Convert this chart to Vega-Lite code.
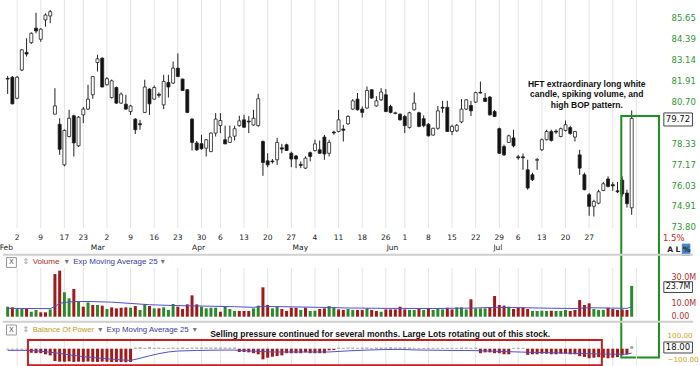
{
"$schema": "https://vega.github.io/schema/vega-lite/v6.json",
"width": 662, "height": 366,
"autosize": {"type": "none"},
"padding": {"left": 0, "top": 0, "right": 38, "bottom": 0},
"background": "white",
"config": {"view": {"stroke": null}, "axis": {"domain": false, "ticks": false, "grid": false, "labelOverlap": false, "labelFlush": false}},
"datasets": {
"one": [{}],
"w": [{"i":2},{"i":7},{"i":12},{"i":16},{"i":21},{"i":26},{"i":31},{"i":36},{"i":41},{"i":45},{"i":50},{"i":55},{"i":60},{"i":65},{"i":70},{"i":75},{"i":80},{"i":84},{"i":89},{"i":94},{"i":99},{"i":104},{"i":108},{"i":113},{"i":118},{"i":123},{"i":128},{"i":133}],
"dl": [{"i":2,"d":"2"},{"i":7,"d":"9"},{"i":12,"d":"17"},{"i":16,"d":"23"},{"i":21,"d":"2"},{"i":26,"d":"9"},{"i":31,"d":"16"},{"i":36,"d":"23"},{"i":41,"d":"30"},{"i":45,"d":"6"},{"i":50,"d":"13"},{"i":55,"d":"20"},{"i":60,"d":"27"},{"i":65,"d":"4"},{"i":70,"d":"11"},{"i":75,"d":"18"},{"i":80,"d":"26"},{"i":84,"d":"1"},{"i":89,"d":"8"},{"i":94,"d":"15"},{"i":99,"d":"22"},{"i":104,"d":"29"},{"i":108,"d":"6"},{"i":113,"d":"13"},{"i":118,"d":"20"},{"i":123,"d":"27"}],
"c": [
{"i":0,"o":82.02,"h":82.16,"l":81.12,"c":81.98},{"i":1,"o":82.09,"h":82.16,"l":80.52,"c":80.55},{"i":2,"o":80.87,"h":82.16,"l":80.81,"c":82.09},{"i":3,"o":82.51,"h":83.75,"l":82.45,"c":83.70},{"i":4,"o":83.55,"h":84.39,"l":83.30,"c":83.45},
{"i":5,"o":84.13,"h":84.75,"l":84.05,"c":84.69},{"i":6,"o":85.00,"h":85.94,"l":84.69,"c":84.83},{"i":7,"o":84.33,"h":85.00,"l":84.18,"c":84.94},{"i":8,"o":85.50,"h":85.90,"l":85.09,"c":85.80},{"i":9,"o":85.74,"h":86.11,"l":85.30,"c":86.00},
{"i":10,"o":79.96,"h":81.45,"l":79.96,"c":80.43},{"i":11,"o":79.39,"h":79.73,"l":77.68,"c":77.99},{"i":12,"o":77.13,"h":79.10,"l":77.05,"c":79.04},{"i":13,"o":78.70,"h":80.21,"l":78.65,"c":79.73},{"i":14,"o":79.87,"h":79.93,"l":77.59,"c":78.34},
{"i":15,"o":78.18,"h":79.85,"l":78.12,"c":79.79},{"i":16,"o":79.92,"h":80.37,"l":79.45,"c":80.25},{"i":17,"o":80.25,"h":81.65,"l":80.21,"c":80.82},{"i":18,"o":81.07,"h":82.16,"l":80.84,"c":82.13},{"i":19,"o":82.95,"h":83.41,"l":82.42,"c":83.17},
{"i":20,"o":83.21,"h":83.25,"l":81.50,"c":81.52},{"i":21,"o":81.65,"h":82.10,"l":81.60,"c":82.00},{"i":22,"o":80.91,"h":81.95,"l":80.85,"c":81.88},{"i":23,"o":81.49,"h":81.55,"l":80.55,"c":80.59},{"i":24,"o":80.59,"h":81.20,"l":80.55,"c":81.11},
{"i":25,"o":80.53,"h":81.07,"l":80.21,"c":80.25},{"i":26,"o":80.11,"h":80.49,"l":79.92,"c":80.43},{"i":27,"o":79.68,"h":79.73,"l":78.84,"c":79.08},{"i":28,"o":79.42,"h":79.64,"l":79.08,"c":79.36},{"i":29,"o":80.06,"h":81.94,"l":80.02,"c":81.52},
{"i":30,"o":81.40,"h":81.45,"l":79.92,"c":80.55},{"i":31,"o":80.82,"h":81.60,"l":80.78,"c":81.49},{"i":32,"o":81.10,"h":81.20,"l":80.90,"c":81.04},{"i":33,"o":80.49,"h":82.23,"l":80.25,"c":81.84},{"i":34,"o":81.78,"h":82.23,"l":80.91,"c":81.52},
{"i":35,"o":81.75,"h":83.01,"l":81.70,"c":82.62},{"i":36,"o":82.62,"h":83.49,"l":82.09,"c":82.13},{"i":37,"o":81.98,"h":82.00,"l":81.30,"c":81.32},{"i":38,"o":81.36,"h":81.40,"l":80.02,"c":80.06},{"i":39,"o":79.68,"h":79.73,"l":77.92,"c":78.37},
{"i":40,"o":78.34,"h":78.45,"l":77.90,"c":77.96},{"i":41,"o":78.30,"h":78.80,"l":77.96,"c":78.02},{"i":42,"o":78.05,"h":78.56,"l":77.59,"c":78.52},{"i":43,"o":77.86,"h":78.93,"l":77.83,"c":78.89},{"i":44,"o":78.89,"h":80.02,"l":78.70,"c":79.68},
{"i":45,"o":79.32,"h":80.02,"l":78.89,"c":79.60},{"i":46,"o":78.52,"h":79.31,"l":78.27,"c":78.29},{"i":47,"o":78.37,"h":79.31,"l":78.34,"c":78.67},{"i":48,"o":78.72,"h":79.31,"l":78.48,"c":79.14},{"i":49,"o":79.31,"h":79.87,"l":79.25,"c":79.58},
{"i":50,"o":79.64,"h":79.93,"l":79.20,"c":79.22},{"i":51,"o":79.57,"h":79.85,"l":78.89,"c":79.52},{"i":52,"o":79.35,"h":80.21,"l":79.31,"c":79.73},{"i":53,"o":79.31,"h":81.13,"l":79.25,"c":80.84},{"i":54,"o":78.42,"h":78.48,"l":76.53,"c":77.26},
{"i":55,"o":77.35,"h":77.77,"l":77.00,"c":77.13},{"i":56,"o":77.34,"h":77.45,"l":77.20,"c":77.30},{"i":57,"o":77.41,"h":78.62,"l":77.13,"c":78.37},{"i":58,"o":78.07,"h":78.29,"l":77.77,"c":78.00},{"i":59,"o":78.24,"h":78.30,"l":77.90,"c":77.92},
{"i":60,"o":77.77,"h":77.86,"l":77.00,"c":77.45},{"i":61,"o":77.62,"h":77.68,"l":76.95,"c":77.45},{"i":62,"o":77.16,"h":77.32,"l":76.95,"c":77.10},{"i":63,"o":76.95,"h":77.60,"l":76.90,"c":77.50},{"i":64,"o":77.80,"h":77.86,"l":77.32,"c":77.59},
{"i":65,"o":77.92,"h":78.52,"l":77.86,"c":78.29},{"i":66,"o":77.96,"h":78.48,"l":77.73,"c":77.77},{"i":67,"o":78.67,"h":78.79,"l":77.41,"c":77.73},{"i":68,"o":77.77,"h":78.52,"l":77.59,"c":78.37},{"i":69,"o":78.95,"h":79.02,"l":78.80,"c":78.90},
{"i":70,"o":78.98,"h":80.21,"l":78.93,"c":79.64},{"i":71,"o":79.12,"h":79.36,"l":78.42,"c":79.05},{"i":72,"o":79.41,"h":79.90,"l":79.36,"c":79.83},{"i":73,"o":80.25,"h":80.82,"l":80.21,"c":80.72},{"i":74,"o":80.82,"h":81.17,"l":80.17,"c":80.21},
{"i":75,"o":80.25,"h":80.40,"l":79.77,"c":80.06},{"i":76,"o":80.31,"h":81.55,"l":80.27,"c":81.32},{"i":77,"o":81.36,"h":81.40,"l":80.84,"c":80.88},{"i":78,"o":80.43,"h":80.99,"l":80.39,"c":80.72},{"i":79,"o":80.78,"h":81.45,"l":80.72,"c":81.23},
{"i":80,"o":81.07,"h":81.40,"l":80.08,"c":80.11},{"i":81,"o":80.40,"h":80.50,"l":80.00,"c":80.06},{"i":82,"o":80.00,"h":80.10,"l":79.95,"c":80.04},{"i":83,"o":79.96,"h":80.00,"l":79.60,"c":79.64},{"i":84,"o":79.83,"h":79.92,"l":78.89,"c":79.31},
{"i":85,"o":79.20,"h":80.10,"l":79.15,"c":80.04},{"i":86,"o":80.21,"h":81.20,"l":80.17,"c":80.59},{"i":87,"o":80.04,"h":80.10,"l":79.22,"c":79.27},{"i":88,"o":79.70,"h":79.90,"l":79.22,"c":79.31},{"i":89,"o":79.39,"h":79.45,"l":78.70,"c":78.74},
{"i":90,"o":78.78,"h":79.20,"l":78.75,"c":79.16},{"i":91,"o":79.16,"h":80.43,"l":79.08,"c":80.15},{"i":92,"o":80.35,"h":80.72,"l":80.04,"c":80.30},{"i":93,"o":80.35,"h":80.72,"l":78.98,"c":78.98},{"i":94,"o":78.98,"h":79.36,"l":78.78,"c":79.27},
{"i":95,"o":79.02,"h":79.40,"l":78.95,"c":79.33},{"i":96,"o":79.52,"h":80.82,"l":79.45,"c":80.25},{"i":97,"o":80.25,"h":80.82,"l":80.20,"c":80.78},{"i":98,"o":80.45,"h":80.72,"l":79.85,"c":80.15},{"i":99,"o":80.65,"h":81.25,"l":80.60,"c":81.19},
{"i":100,"o":81.21,"h":81.84,"l":81.15,"c":81.17},{"i":101,"o":80.88,"h":81.17,"l":80.65,"c":80.69},{"i":102,"o":80.94,"h":81.00,"l":79.88,"c":79.92},{"i":103,"o":80.11,"h":80.20,"l":79.80,"c":79.83},{"i":104,"o":79.14,"h":79.20,"l":77.73,"c":77.77},
{"i":105,"o":78.14,"h":78.24,"l":77.62,"c":77.68},{"i":106,"o":78.37,"h":78.80,"l":78.34,"c":78.74},{"i":107,"o":78.62,"h":79.08,"l":78.10,"c":78.18},{"i":108,"o":77.57,"h":77.68,"l":77.41,"c":77.52},{"i":109,"o":77.57,"h":77.75,"l":76.86,"c":77.52},
{"i":110,"o":76.86,"h":77.41,"l":75.78,"c":75.87},{"i":111,"o":76.59,"h":76.70,"l":76.25,"c":76.32},{"i":112,"o":77.38,"h":77.50,"l":76.86,"c":77.43},{"i":113,"o":77.96,"h":78.60,"l":77.90,"c":78.52},{"i":114,"o":78.52,"h":79.08,"l":78.48,"c":78.98},
{"i":115,"o":78.98,"h":79.08,"l":78.42,"c":78.48},{"i":116,"o":79.00,"h":79.10,"l":78.85,"c":78.95},{"i":117,"o":78.70,"h":79.20,"l":78.65,"c":79.14},{"i":118,"o":79.04,"h":79.60,"l":78.98,"c":79.36},{"i":119,"o":79.20,"h":79.30,"l":78.80,"c":78.87},
{"i":120,"o":78.67,"h":79.02,"l":78.42,"c":78.98},{"i":121,"o":77.68,"h":77.96,"l":76.59,"c":76.95},{"i":122,"o":76.59,"h":76.70,"l":75.75,"c":75.78},{"i":123,"o":75.51,"h":75.60,"l":74.39,"c":74.89},{"i":124,"o":74.89,"h":75.24,"l":74.35,"c":75.15},
{"i":125,"o":75.06,"h":75.78,"l":75.00,"c":75.67},{"i":126,"o":75.74,"h":76.20,"l":75.70,"c":76.10},{"i":127,"o":76.36,"h":76.50,"l":75.90,"c":75.96},{"i":128,"o":76.05,"h":76.20,"l":75.72,"c":75.99},{"i":129,"o":75.72,"h":76.20,"l":75.60,"c":75.67},
{"i":130,"o":76.30,"h":76.50,"l":75.40,"c":75.55},{"i":131,"o":75.60,"h":75.78,"l":74.82,"c":75.03},{"i":132,"o":74.81,"h":80.17,"l":74.44,"c":79.72}
],
"v": [
{"i":0,"v":7.7,"up":1},{"i":1,"v":7.2,"up":0},{"i":2,"v":5.9,"up":1},{"i":3,"v":5.9,"up":1},{"i":4,"v":5.9,"up":0},{"i":5,"v":3.8,"up":1},{"i":6,"v":5.2,"up":1},{"i":7,"v":3.4,"up":0},{"i":8,"v":3.4,"up":0},{"i":9,"v":5.6,"up":1},
{"i":10,"v":32.8,"up":0},{"i":11,"v":35.4,"up":0},{"i":12,"v":18.8,"up":1},{"i":13,"v":14.1,"up":1},{"i":14,"v":21.3,"up":0},{"i":15,"v":11.5,"up":1},{"i":16,"v":7.7,"up":0},{"i":17,"v":11.0,"up":1},{"i":18,"v":9.0,"up":0},{"i":19,"v":9.0,"up":1},
{"i":20,"v":8.5,"up":0},{"i":21,"v":5.9,"up":1},{"i":22,"v":7.2,"up":0},{"i":23,"v":6.4,"up":0},{"i":24,"v":6.9,"up":0},{"i":25,"v":7.2,"up":0},{"i":26,"v":6.9,"up":1},{"i":27,"v":8.2,"up":0},{"i":28,"v":5.2,"up":1},{"i":29,"v":9.8,"up":1},
{"i":30,"v":8.2,"up":0},{"i":31,"v":6.4,"up":1},{"i":32,"v":6.4,"up":0},{"i":33,"v":7.2,"up":1},{"i":34,"v":5.2,"up":1},{"i":35,"v":9.8,"up":1},{"i":36,"v":7.7,"up":0},{"i":37,"v":5.9,"up":0},{"i":38,"v":9.5,"up":0},{"i":39,"v":16.4,"up":0},
{"i":40,"v":9.5,"up":0},{"i":41,"v":7.7,"up":1},{"i":42,"v":6.4,"up":1},{"i":43,"v":6.9,"up":1},{"i":44,"v":6.9,"up":1},{"i":45,"v":3.8,"up":0},{"i":46,"v":7.7,"up":1},{"i":47,"v":5.9,"up":1},{"i":48,"v":4.4,"up":1},{"i":49,"v":4.4,"up":0},
{"i":50,"v":4.4,"up":0},{"i":51,"v":4.4,"up":0},{"i":52,"v":6.4,"up":1},{"i":53,"v":8.5,"up":1},{"i":54,"v":22.6,"up":0},{"i":55,"v":9.0,"up":0},{"i":56,"v":6.4,"up":1},{"i":57,"v":7.7,"up":1},{"i":58,"v":5.9,"up":0},{"i":59,"v":4.4,"up":0},
{"i":60,"v":6.9,"up":0},{"i":61,"v":6.9,"up":0},{"i":62,"v":5.2,"up":1},{"i":63,"v":6.9,"up":0},{"i":64,"v":4.4,"up":1},{"i":65,"v":4.6,"up":1},{"i":66,"v":5.9,"up":0},{"i":67,"v":6.4,"up":0},{"i":68,"v":8.2,"up":1},{"i":69,"v":7.2,"up":1},
{"i":70,"v":5.6,"up":0},{"i":71,"v":5.2,"up":0},{"i":72,"v":5.9,"up":1},{"i":73,"v":5.2,"up":1},{"i":74,"v":5.2,"up":0},{"i":75,"v":5.2,"up":0},{"i":76,"v":6.4,"up":1},{"i":77,"v":5.2,"up":0},{"i":78,"v":4.4,"up":0},{"i":79,"v":3.8,"up":1},
{"i":80,"v":5.6,"up":0},{"i":81,"v":5.6,"up":0},{"i":82,"v":5.6,"up":0},{"i":83,"v":7.7,"up":0},{"i":84,"v":5.6,"up":0},{"i":85,"v":5.2,"up":1},{"i":86,"v":5.2,"up":1},{"i":87,"v":5.9,"up":0},{"i":88,"v":5.2,"up":1},{"i":89,"v":6.4,"up":0},
{"i":90,"v":5.2,"up":1},{"i":91,"v":6.4,"up":1},{"i":92,"v":5.6,"up":1},{"i":93,"v":6.9,"up":0},{"i":94,"v":5.6,"up":0},{"i":95,"v":7.2,"up":1},{"i":96,"v":7.2,"up":1},{"i":97,"v":5.6,"up":1},{"i":98,"v":13.4,"up":0},{"i":99,"v":6.4,"up":1},
{"i":100,"v":6.4,"up":1},{"i":101,"v":6.4,"up":1},{"i":102,"v":7.2,"up":0},{"i":103,"v":15.9,"up":0},{"i":104,"v":9.0,"up":0},{"i":105,"v":8.5,"up":0},{"i":106,"v":7.7,"up":1},{"i":107,"v":5.9,"up":0},{"i":108,"v":6.9,"up":0},{"i":109,"v":7.2,"up":0},
{"i":110,"v":5.9,"up":0},{"i":111,"v":4.4,"up":1},{"i":112,"v":4.4,"up":1},{"i":113,"v":4.6,"up":1},{"i":114,"v":4.4,"up":1},{"i":115,"v":4.6,"up":0},{"i":116,"v":4.4,"up":1},{"i":117,"v":4.4,"up":1},{"i":118,"v":5.2,"up":1},{"i":119,"v":4.4,"up":0},
{"i":120,"v":5.2,"up":0},{"i":121,"v":12.8,"up":0},{"i":122,"v":9.0,"up":0},{"i":123,"v":10.3,"up":0},{"i":124,"v":5.9,"up":1},{"i":125,"v":5.2,"up":1},{"i":126,"v":5.2,"up":1},{"i":127,"v":6.9,"up":0},{"i":128,"v":5.9,"up":0},{"i":129,"v":5.2,"up":0},
{"i":130,"v":5.5,"up":0},{"i":131,"v":5.2,"up":0},{"i":132,"v":23.7,"up":1}
],
"ve": [{"i":0,"e":6.4},{"i":9,"e":6.2},{"i":10,"e":8.0},{"i":11,"e":10.2},{"i":12,"e":11.0},{"i":14,"e":11.6},{"i":17,"e":11.7},{"i":22,"e":11.2},{"i":26,"e":10.2},{"i":30,"e":9.2},{"i":35,"e":8.6},{"i":41,"e":8.2},{"i":48,"e":7.7},{"i":52,"e":7.2},{"i":54,"e":7.9},{"i":60,"e":7.6},{"i":66,"e":7.2},{"i":72,"e":6.7},{"i":80,"e":6.4},{"i":90,"e":6.3},{"i":98,"e":6.6},{"i":103,"e":7.2},{"i":109,"e":6.9},{"i":115,"e":6.5},{"i":120,"e":6.3},{"i":123,"e":6.9},{"i":128,"e":6.6},{"i":131,"e":6.4},{"i":132,"e":7.6}],
"b": [
{"i":0,"b":-6},{"i":1,"b":-6},{"i":2,"b":-6},{"i":3,"b":-6},{"i":4,"b":-6},{"i":5,"b":-29},{"i":6,"b":-33},{"i":7,"b":-33},{"i":8,"b":-41},{"i":9,"b":-49},
{"i":10,"b":-90},{"i":11,"b":-95},{"i":12,"b":-95},{"i":13,"b":-93},{"i":14,"b":-97},{"i":15,"b":-95},{"i":16,"b":-96},{"i":17,"b":-94},{"i":18,"b":-96},{"i":19,"b":-97},
{"i":20,"b":-95},{"i":21,"b":-96},{"i":22,"b":-98},{"i":23,"b":-97},{"i":24,"b":-98},{"i":25,"b":-99},{"i":26,"b":-97},{"i":27,"b":8},{"i":28,"b":10},{"i":29,"b":6},
{"i":30,"b":10},{"i":31,"b":6},{"i":32,"b":8},{"i":33,"b":6},{"i":34,"b":6},{"i":35,"b":8},{"i":36,"b":6},{"i":37,"b":8},{"i":38,"b":6},{"i":39,"b":8},
{"i":40,"b":8},{"i":41,"b":8},{"i":42,"b":8},{"i":43,"b":8},{"i":44,"b":8},{"i":45,"b":8},{"i":46,"b":8},{"i":47,"b":8},{"i":48,"b":8},{"i":49,"b":-24},
{"i":50,"b":-24},{"i":51,"b":-27},{"i":52,"b":-33},{"i":53,"b":-41},{"i":54,"b":-78},{"i":55,"b":-66},{"i":56,"b":-59},{"i":57,"b":-54},{"i":58,"b":-49},{"i":59,"b":-33},
{"i":60,"b":-33},{"i":61,"b":-33},{"i":62,"b":-33},{"i":63,"b":-27},{"i":64,"b":-33},{"i":65,"b":-33},{"i":66,"b":-33},{"i":67,"b":-33},{"i":68,"b":-12},{"i":69,"b":-10},
{"i":70,"b":8},{"i":71,"b":6},{"i":72,"b":8},{"i":73,"b":8},{"i":74,"b":6},{"i":75,"b":8},{"i":76,"b":8},{"i":77,"b":6},{"i":78,"b":8},{"i":79,"b":8},
{"i":80,"b":8},{"i":81,"b":10},{"i":82,"b":8},{"i":83,"b":8},{"i":84,"b":10},{"i":85,"b":8},{"i":86,"b":6},{"i":87,"b":6},{"i":88,"b":6},{"i":89,"b":6},
{"i":90,"b":6},{"i":91,"b":6},{"i":92,"b":6},{"i":93,"b":6},{"i":94,"b":6},{"i":95,"b":6},{"i":96,"b":8},{"i":97,"b":8},{"i":98,"b":6},{"i":99,"b":8},
{"i":100,"b":-33},{"i":101,"b":-27},{"i":102,"b":-27},{"i":103,"b":-33},{"i":104,"b":-33},{"i":105,"b":-41},{"i":106,"b":-41},{"i":107,"b":6},{"i":108,"b":6},{"i":109,"b":6},
{"i":110,"b":-45},{"i":111,"b":-41},{"i":112,"b":-41},{"i":113,"b":-37},{"i":114,"b":-37},{"i":115,"b":-41},{"i":116,"b":-41},{"i":117,"b":-37},{"i":118,"b":-37},{"i":119,"b":-41},
{"i":120,"b":-41},{"i":121,"b":-55},{"i":122,"b":-60},{"i":123,"b":-70},{"i":124,"b":-66},{"i":125,"b":-62},{"i":126,"b":-66},{"i":127,"b":-70},{"i":128,"b":-66},{"i":129,"b":-62},
{"i":130,"b":-48},{"i":131,"b":-41},{"i":132,"b":18}
],
"be": [{"i":0,"e":-12},{"i":5,"e":-13},{"i":8,"e":-22},{"i":10,"e":-30},{"i":13,"e":-45},{"i":16,"e":-58},{"i":19,"e":-68},{"i":22,"e":-77},{"i":25,"e":-84},{"i":26,"e":-86},{"i":28,"e":-70},{"i":30,"e":-52},{"i":32,"e":-36},{"i":34,"e":-24},{"i":36,"e":-17},{"i":40,"e":-13},{"i":45,"e":-10},{"i":48,"e":-10},{"i":52,"e":-18},{"i":56,"e":-24},{"i":60,"e":-24},{"i":65,"e":-24},{"i":68,"e":-24},{"i":72,"e":-16},{"i":76,"e":-10},{"i":80,"e":-6},{"i":83,"e":-5},{"i":86,"e":-9},{"i":92,"e":-12},{"i":99,"e":-14},{"i":104,"e":-20},{"i":110,"e":-26},{"i":116,"e":-30},{"i":122,"e":-36},{"i":128,"e":-40},{"i":131,"e":-40},{"i":132,"e":-32}]
},
"layer": [
{
"layer": [
{"data": {"name": "w"}, "mark": {"type": "rule", "color": "#e4e4e4", "strokeWidth": 1},
 "encoding": {
  "x": {"field": "i", "type": "quantitative", "scale": {"domain": [-0.5625, 137.354], "nice": false, "zero": false}, "axis": null},
  "y": {"datum": 86.72, "scale": {"type": "log", "domain": [73.745, 86.72], "range": [228, 0], "nice": false, "zero": false},
   "axis": {"orient": "right", "title": null, "labelOverlap": false, "values": [73.80, 74.91, 76.03, 77.17, 78.33, 80.70, 81.91, 83.14, 84.39, 85.65], "labelExpr": "format(datum.value, '.2f')",
    "labelFont": "DejaVu Sans", "labelFontSize": 8.5, "labelColor": "#2f962f", "labelPadding": 9}},
  "y2": {"datum": 73.745}}},
{"data": {"name": "c"}, "mark": {"type": "rule", "color": "#222", "strokeWidth": 1},
 "encoding": {
  "x": {"field": "i", "type": "quantitative", "axis": null},
  "y": {"field": "l", "type": "quantitative"},
  "y2": {"field": "h"}}},
{"data": {"name": "c"}, "mark": {"type": "bar", "size": 3, "stroke": "#222", "strokeWidth": 0.8},
 "encoding": {
  "x": {"field": "i", "type": "quantitative", "axis": null},
  "y": {"field": "o", "type": "quantitative"},
  "y2": {"field": "c"},
  "fill": {"condition": {"test": "datum.c >= datum.o", "value": "#ffffff"}, "value": "#111111"}}},
{"data": {"name": "dl"}, "mark": {"type": "text", "font": "DejaVu Sans", "fontSize": 7.5, "color": "#222", "align": "center", "baseline": "middle"},
 "encoding": {"x": {"field": "i", "type": "quantitative", "axis": null}, "y": {"datum": 73.23}, "text": {"field": "d"}}},
{"data": {"name": "one"}, "mark": {"type": "text", "font": "Liberation Sans", "fontWeight": "bold", "fontSize": 8.5, "color": "#111", "align": "center", "baseline": "middle", "lineHeight": 10.2,
  "text": ["HFT extraordinary long white", "candle, spiking volume, and", "high BOP pattern."]},
 "encoding": {"x": {"datum": 122.5, "axis": null}, "y": {"datum": 81.68}}},
{"data": {"name": "one"}, "mark": {"type": "rect", "fillOpacity": 0, "stroke": "#1f8f1f", "strokeWidth": 2},
 "encoding": {"x": {"datum": 129.8, "axis": null}, "x2": {"datum": 137.77}, "y": {"datum": 79.86}, "y2": {"datum": 67.26}}},
{"data": {"name": "one"}, "mark": {"type": "rect", "fill": "#ffffff", "stroke": "#444", "strokeWidth": 1},
 "encoding": {"x": {"datum": 138.8, "axis": null}, "x2": {"datum": 144.85}, "y": {"datum": 80.03}, "y2": {"datum": 79.29}}},
{"data": {"name": "one"}, "mark": {"type": "text", "font": "DejaVu Sans", "fontSize": 8.5, "color": "#111", "align": "center", "baseline": "middle", "text": "79.72"},
 "encoding": {"x": {"datum": 141.8, "axis": null}, "y": {"datum": 79.66}}},
{"data": {"name": "one"}, "mark": {"type": "text", "font": "DejaVu Sans", "fontSize": 8.5, "color": "#d02828", "align": "left", "baseline": "middle", "text": "1.5%"},
 "encoding": {"x": {"datum": 138.6, "axis": null}, "y": {"datum": 73.23}}},
{"data": {"name": "one"}, "mark": {"type": "rect", "fill": "#4a86c8"},
 "encoding": {"x": {"datum": 142.6, "axis": null}, "x2": {"datum": 144.4}, "y": {"datum": 72.93}, "y2": {"datum": 72.30}}},
{"data": {"name": "one"}, "mark": {"type": "text", "font": "DejaVu Sans", "fontWeight": "bold", "fontSize": 7.5, "color": "#222", "align": "left", "baseline": "middle", "text": "A  L   %"},
 "encoding": {"x": {"datum": 139.5, "axis": null}, "y": {"datum": 72.62}}}
]
},
{
"layer": [
{"data": {"name": "w"}, "mark": {"type": "rule", "color": "#e4e4e4", "strokeWidth": 1},
 "encoding": {
  "x": {"field": "i", "type": "quantitative",
   "axis": {"orient": "bottom", "offset": -138, "title": null, "labelOverlap": false, "labelFlush": false, "labelBound": false, "values": [-0.4, 18.96, 40.27, 61.8, 81.3, 103.6],
    "labelExpr": "['Feb','Mar','Apr','May','Jun','Jul'][indexof([-0.4, 18.96, 40.27, 61.8, 81.3, 103.6], datum.value)]",
    "labelFont": "DejaVu Sans", "labelFontSize": 7.5, "labelColor": "#222", "labelPadding": 15}},
  "y": {"datum": 37.5}, "y2": {"datum": 0}}},
{"data": {"name": "one"}, "mark": {"type": "rule", "color": "#cfcfcf", "strokeWidth": 2},
 "encoding": {"x": {"datum": -1}, "x2": {"datum": 145}, "y": {"datum": 47.6}}},
{"data": {"name": "one"}, "mark": {"type": "rule", "color": "#cfcfcf", "strokeWidth": 2},
 "encoding": {"x": {"datum": -1}, "x2": {"datum": 145}, "y": {"datum": -3.85}}},
{"data": {"name": "v"}, "mark": {"type": "bar", "size": 3},
 "encoding": {
  "x": {"field": "i", "type": "quantitative"},
  "y": {"field": "v", "type": "quantitative", "scale": {"domain": [0, 37.5], "range": [316.7, 267.95], "nice": false},
   "axis": {"orient": "right", "title": null, "labelOverlap": false, "values": [0, 10, 30], "labelExpr": "datum.value == 0 ? '0.00' : format(datum.value, '.1f') + 'M'",
    "labelFont": "DejaVu Sans", "labelFontSize": 8, "labelColor": "#b03030", "labelPadding": 9}},
  "color": {"condition": {"test": "datum.up == 1", "value": "#2a8a2a"}, "value": "#a31818"}}},
{"data": {"name": "ve"}, "mark": {"type": "line", "color": "#5050c8", "strokeWidth": 1},
 "encoding": {"x": {"field": "i", "type": "quantitative"}, "y": {"field": "e", "type": "quantitative"}}},
{"data": {"name": "one"}, "mark": {"type": "rect", "fill": "#ffffff", "stroke": "#999", "strokeWidth": 1},
 "encoding": {"x": {"datum": -0.25}, "x2": {"datum": 1.85}, "y": {"datum": 45.5}, "y2": {"datum": 37.9}}},
{"data": {"name": "one"}, "mark": {"type": "text", "font": "DejaVu Sans", "fontSize": 7, "color": "#555", "align": "center", "baseline": "middle", "text": "X"},
 "encoding": {"x": {"datum": 0.8}, "y": {"datum": 41.8}}},
{"data": {"name": "one"}, "mark": {"type": "text", "font": "DejaVu Sans", "fontSize": 8, "color": "#999", "align": "center", "baseline": "middle", "text": "⇕"},
 "encoding": {"x": {"datum": 3.85}, "y": {"datum": 41.8}}},
{"data": {"name": "one"}, "mark": {"type": "text", "font": "Liberation Sans", "fontSize": 8, "color": "#a52a2a", "align": "left", "baseline": "middle", "text": "Volume"},
 "encoding": {"x": {"datum": 5.3}, "y": {"datum": 41.8}}},
{"data": {"name": "one"}, "mark": {"type": "text", "font": "DejaVu Sans", "fontSize": 8, "color": "#777", "align": "center", "baseline": "middle", "text": "▾"},
 "encoding": {"x": {"datum": 12.5}, "y": {"datum": 41.8}}},
{"data": {"name": "one"}, "mark": {"type": "text", "font": "Liberation Sans", "fontSize": 8, "color": "#3a3aa8", "align": "left", "baseline": "middle", "text": "Exp Moving Average 25"},
 "encoding": {"x": {"datum": 13.87}, "y": {"datum": 41.8}}},
{"data": {"name": "one"}, "mark": {"type": "text", "font": "DejaVu Sans", "fontSize": 8, "color": "#777", "align": "center", "baseline": "middle", "text": "▾"},
 "encoding": {"x": {"datum": 32.8}, "y": {"datum": 41.8}}},
{"data": {"name": "one"}, "mark": {"type": "rect", "fill": "#ffffff", "stroke": "#444", "strokeWidth": 1},
 "encoding": {"x": {"datum": 138.8}, "x2": {"datum": 144.85}, "y": {"datum": 26.9}, "y2": {"datum": 18.6}}},
{"data": {"name": "one"}, "mark": {"type": "text", "font": "DejaVu Sans", "fontSize": 8, "color": "#111", "align": "center", "baseline": "middle", "text": "23.7M"},
 "encoding": {"x": {"datum": 141.8}, "y": {"datum": 22.7}}}
]
},
{
"layer": [
{"data": {"name": "w"}, "mark": {"type": "rule", "color": "#e4e4e4", "strokeWidth": 1},
 "encoding": {"x": {"field": "i", "type": "quantitative", "axis": null}, "y": {"datum": 80.6}, "y2": {"datum": -128}}},
{"data": {"name": "b"}, "mark": {"type": "bar", "size": 3},
 "encoding": {
  "x": {"field": "i", "type": "quantitative", "axis": null},
  "y": {"field": "b", "type": "quantitative", "scale": {"domain": [-130, 130], "range": [366.445, 330.955], "nice": false},
   "axis": {"orient": "right", "title": null, "labelOverlap": false, "values": [-100, 100], "labelExpr": "format(datum.value, '.2f')",
    "labelFont": "DejaVu Sans", "labelFontSize": 7.2, "labelOffset": {"condition": {"test": "datum.value < 0", "value": -2.5}, "value": 0}, "labelColor": "#d4a020", "labelPadding": 5}},
  "color": {"condition": {"test": "datum.b < -8", "value": "#a31818"}, "value": "#9a9a9a"}}},
{"data": {"name": "be"}, "mark": {"type": "line", "color": "#5050c8", "strokeWidth": 1},
 "encoding": {"x": {"field": "i", "type": "quantitative", "axis": null}, "y": {"field": "e", "type": "quantitative"}}},
{"data": {"name": "one"}, "mark": {"type": "rect", "fillOpacity": 0, "stroke": "#c81e1e", "strokeWidth": 2},
 "encoding": {"x": {"datum": 4.29, "axis": null}, "x2": {"datum": 125.69}, "y": {"datum": 63.7}, "y2": {"datum": -121.6}}},
{"data": {"name": "one"}, "mark": {"type": "rect", "fill": "#ffffff", "stroke": "#999", "strokeWidth": 1},
 "encoding": {"x": {"datum": -0.25, "axis": null}, "x2": {"datum": 1.85}, "y": {"datum": 173.6}, "y2": {"datum": 100.4}}},
{"data": {"name": "one"}, "mark": {"type": "text", "font": "DejaVu Sans", "fontSize": 7, "color": "#555", "align": "center", "baseline": "middle", "text": "X"},
 "encoding": {"x": {"datum": 0.8, "axis": null}, "y": {"datum": 137}}},
{"data": {"name": "one"}, "mark": {"type": "text", "font": "DejaVu Sans", "fontSize": 8, "color": "#999", "align": "center", "baseline": "middle", "text": "⇕"},
 "encoding": {"x": {"datum": 3.85, "axis": null}, "y": {"datum": 137}}},
{"data": {"name": "one"}, "mark": {"type": "text", "font": "Liberation Sans", "fontSize": 7.6, "color": "#c8961e", "align": "left", "baseline": "middle", "text": "Balance Of Power"},
 "encoding": {"x": {"datum": 5.3, "axis": null}, "y": {"datum": 137}}},
{"data": {"name": "one"}, "mark": {"type": "text", "font": "DejaVu Sans", "fontSize": 8, "color": "#777", "align": "center", "baseline": "middle", "text": "▾"},
 "encoding": {"x": {"datum": 19.6, "axis": null}, "y": {"datum": 137}}},
{"data": {"name": "one"}, "mark": {"type": "text", "font": "Liberation Sans", "fontSize": 7.8, "color": "#3a3aa8", "align": "left", "baseline": "middle", "text": "Exp Moving Average 25"},
 "encoding": {"x": {"datum": 20.9, "axis": null}, "y": {"datum": 137}}},
{"data": {"name": "one"}, "mark": {"type": "text", "font": "DejaVu Sans", "fontSize": 8, "color": "#777", "align": "center", "baseline": "middle", "text": "▾"},
 "encoding": {"x": {"datum": 39.6, "axis": null}, "y": {"datum": 137}}},
{"data": {"name": "one"}, "mark": {"type": "text", "font": "Liberation Sans", "fontWeight": "bold", "fontSize": 8.5, "color": "#111", "align": "left", "baseline": "middle", "text": "Selling pressure continued for several months. Large Lots rotating out of this stock."},
 "encoding": {"x": {"datum": 42.83, "axis": null}, "y": {"datum": 111}}},
{"data": {"name": "one"}, "mark": {"type": "rect", "fill": "#ffffff", "stroke": "#444", "strokeWidth": 1},
 "encoding": {"x": {"datum": 138.8, "axis": null}, "x2": {"datum": 144.85}, "y": {"datum": 49.1}, "y2": {"datum": -31.5}}},
{"data": {"name": "one"}, "mark": {"type": "text", "font": "DejaVu Sans", "fontSize": 8.5, "color": "#111", "align": "center", "baseline": "middle", "text": "18.00"},
 "encoding": {"x": {"datum": 141.8, "axis": null}, "y": {"datum": 8.8}}}
]
}
],
"resolve": {"scale": {"y": "independent"}, "axis": {"y": "independent", "x": "independent"}}
}
